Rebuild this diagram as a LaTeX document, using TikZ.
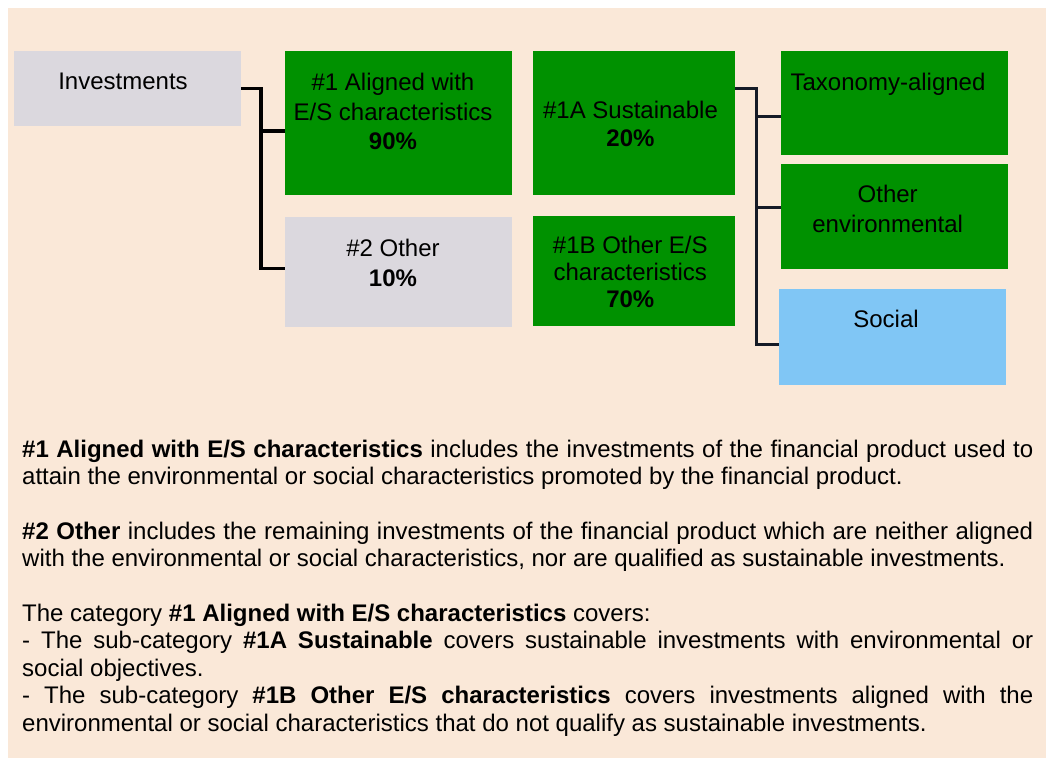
\documentclass[tikz,border=0pt]{standalone}
\usepackage{fontspec}
\setmainfont{Liberation Sans}
\definecolor{bgbeige}{HTML}{FAE8D8}
\definecolor{boxgray}{HTML}{DBD8DE}
\definecolor{boxgreen}{RGB}{0,145,0}
\definecolor{boxblue}{HTML}{80C6F5}
\definecolor{linedark}{HTML}{151B27}
\begin{document}
\begin{tikzpicture}[x=1pt,y=-1pt,
  box/.style={draw=none, inner sep=0pt, outer sep=0pt, anchor=north west},
  lbl/.style={inner sep=0pt, anchor=north, align=center},
  conn/.style={line width=3.6pt, black, line join=miter},
  conntwo/.style={line width=3pt, linedark, line join=miter}]
\useasboundingbox (0,0) rectangle (1046,758);
\fill[bgbeige] (8,8) rectangle (1046,758);

% boxes
\node[box, fill=boxgray,  minimum width=227pt,   minimum height=74.7pt] (inv) at (14,51) {};
\node[box, fill=boxgreen, minimum width=227pt,   minimum height=144pt]  (one) at (285,51) {};
\node[box, fill=boxgray,  minimum width=227pt,   minimum height=109.7pt] (two) at (285,217) {};
\node[box, fill=boxgreen, minimum width=201.7pt, minimum height=144pt]  (onea) at (533.3,51) {};
\node[box, fill=boxgreen, minimum width=201.7pt, minimum height=110pt]  (oneb) at (533.3,216) {};
\node[box, fill=boxgreen, minimum width=226.7pt, minimum height=104pt]  (tax) at (781,51) {};
\node[box, fill=boxgreen, minimum width=226.7pt, minimum height=105pt]  (oenv) at (781,164) {};
\node[box, fill=boxblue,  minimum width=227pt,   minimum height=95.7pt] (soc) at (779,289) {};

% labels
\node[lbl, font=\fontsize{24}{29.7}\selectfont] (invt) at (123,72.8) {Investments};
\node[lbl, font=\fontsize{24}{29.7}\selectfont] (onet) at (393,72.8) {\#1 Aligned with\\E/S characteristics\\\textbf{90\%}};
\node[lbl, font=\fontsize{24}{30}\selectfont] (twot) at (393,238.8) {\#2 Other\\\textbf{10\%}};
\node[lbl, font=\fontsize{24}{28}\selectfont] (oneat) at (630.5,101.1) {\#1A Sustainable\\\textbf{20\%}};
\node[lbl, font=\fontsize{24}{27}\selectfont] (onebt) at (630.3,236.1) {\#1B Other E/S\\characteristics\\\textbf{70\%}};
\node[lbl, font=\fontsize{24}{29.7}\selectfont] (taxt) at (888,72.8) {Taxonomy-aligned};
\node[lbl, font=\fontsize{24}{30}\selectfont] (oenvt) at (887.7,184.5) {Other\\environmental};
\node[lbl, font=\fontsize{24}{29.7}\selectfont] (soct) at (886,310.1) {Social};

% connectors left
\coordinate (ja) at (260.7,130.7);
\coordinate (jb) at (260.7,268.3);
\draw[conn] (inv.east) -| (jb) -- (jb -| two.west);
\draw[conn] (ja) -- (ja -| one.west);

% connectors right
\coordinate (r0) at (735,88.3);
\coordinate (r1) at (756.7,116);
\coordinate (r2) at (756.7,207.3);
\coordinate (r3) at (756.7,344);
\draw[conntwo] (r0) -| (r3) -- (r3 -| soc.west);
\draw[conntwo] (r1) -- (r1 -| tax.west);
\draw[conntwo] (r2) -- (r2 -| oenv.west);

% description
\node[inner sep=0pt, anchor=north west, text width=1011pt, align=justify,
      font=\fontsize{24}{27.4}\selectfont] (desc) at (22,439.5) {%
\setlength{\parskip}{27.4pt}\hyphenpenalty=10000 \exhyphenpenalty=10000
\textbf{\#1 Aligned with E/S characteristics} includes the investments of the financial product used to\linebreak attain the environmental or social characteristics promoted by the financial product.\par
\textbf{\#2 Other} includes the remaining investments of the financial product which are neither aligned\linebreak with the environmental or social characteristics, nor are qualified as sustainable investments.\par
The category \textbf{\#1 Aligned with E/S characteristics} covers:\\
- The sub-category \textbf{\#1A Sustainable} covers sustainable investments with environmental or\linebreak social objectives.\\
- The sub-category \textbf{\#1B Other E/S characteristics} covers investments aligned with the\linebreak environmental or social characteristics that do not qualify as sustainable investments.};
\end{tikzpicture}
\end{document}
